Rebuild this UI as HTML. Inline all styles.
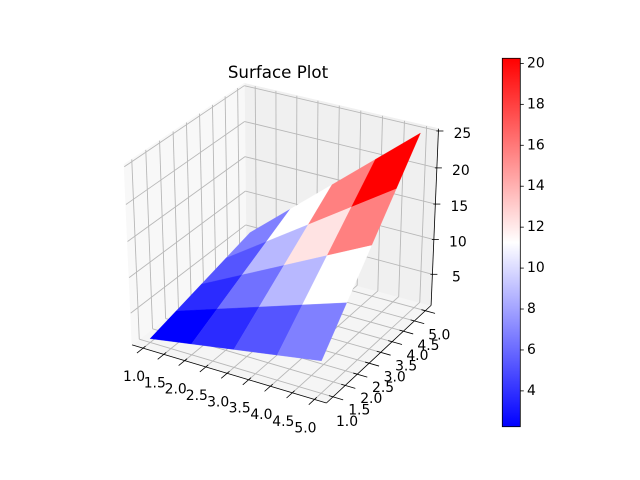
<!DOCTYPE html>
<html><head><meta charset="utf-8"><style>
html,body{margin:0;padding:0;background:#fff;}
svg{display:block;font-family:"DejaVu Sans","Liberation Sans",sans-serif;}
</style></head><body>
<svg id="chart" width="640" height="480" viewBox="0 0 640 480" xmlns="http://www.w3.org/2000/svg">
<defs>
<linearGradient id="bwr" x1="0" y1="1" x2="0" y2="0">
<stop offset="0" stop-color="#0000ff"/><stop offset="0.5" stop-color="#ffffff"/><stop offset="1" stop-color="#ff0000"/>
</linearGradient>
</defs>
<text x="278" y="78" font-size="16.7" text-anchor="middle" fill="#000">Surface Plot</text>
<g id="panes"></g><g id="grid"></g><g id="axes"></g><g id="surface"></g><g id="labels"></g>
<g id="colorbar">
<rect x="502.3" y="58.3" width="18" height="368.4" fill="url(#bwr)" stroke="#000" stroke-width="0.8"/>
</g>
</svg>
<script>
const xs = [1, 2, 3, 4, 5];
const ys = [1, 2, 3, 4, 5];
const zGrid = [
  [1, 2, 3, 4, 5],
  [2, 4, 6, 8, 10],
  [3, 6, 9, 12, 15],
  [4, 8, 12, 16, 20],
  [5, 10, 15, 20, 25]
]; // zGrid[i][j] for x=xs[i], y=ys[j]
const xTicks = [1.0, 1.5, 2.0, 2.5, 3.0, 3.5, 4.0, 4.5, 5.0];
const yTicks = [1.0, 1.5, 2.0, 2.5, 3.0, 3.5, 4.0, 4.5, 5.0];
const zTicks = [5, 10, 15, 20, 25];
const cbTicks = [4, 6, 8, 10, 12, 14, 16, 18, 20];

const XMIN=0.733,XMAX=5.267,YMIN=0.733,YMAX=5.267,ZMIN=0.445,ZMAX=25.3;
const CBMIN=2.25,CBMAX=20.25;
const az=-60*Math.PI/180, el=30*Math.PI/180;
const r=[-Math.sin(az),Math.cos(az),0];
const u=[-Math.sin(el)*Math.cos(az),-Math.sin(el)*Math.sin(az),Math.cos(el)];
const w=[Math.cos(el)*Math.cos(az),Math.cos(el)*Math.sin(az),Math.sin(el)];
function proj(x,y,z){
  const p=[(x-XMIN)/(XMAX-XMIN)-0.5,(y-YMIN)/(YMAX-YMIN)-0.5,(z-ZMIN)/(ZMAX-ZMIN)-0.5];
  const sx=p[0]*r[0]+p[1]*r[1]+p[2]*r[2];
  const sy=p[0]*u[0]+p[1]*u[1]+p[2]*u[2];
  const dd=p[0]*w[0]+p[1]*w[1]+p[2]*w[2];
  const f=10/(10-dd);
  return [283.9+224.3*sx*f,237.8-206*sy*f,dd];
}
const NS='http://www.w3.org/2000/svg';
function mk(tag,attrs,parent){const e=document.createElementNS(NS,tag);for(const k in attrs)e.setAttribute(k,attrs[k]);document.getElementById(parent).appendChild(e);return e;}
function poly(pts){return pts.map(p=>p[0].toFixed(2)+','+p[1].toFixed(2)).join(' ');}
function line(a,b,parent,color,wd){return mk('line',{x1:a[0],y1:a[1],x2:b[0],y2:b[1],stroke:color,'stroke-width':wd},parent);}

let e;
e=mk('polygon',{points:poly([proj(XMIN,YMIN,ZMIN),proj(XMAX,YMIN,ZMIN),proj(XMAX,YMAX,ZMIN),proj(XMIN,YMAX,ZMIN)]),fill:'#f5f5f5',stroke:'#f5f5f5'},'panes');


e=mk('polygon',{points:poly([proj(XMIN,YMAX,ZMIN),proj(XMAX,YMAX,ZMIN),proj(XMAX,YMAX,ZMAX),proj(XMIN,YMAX,ZMAX)]),fill:'#f0f0f0',stroke:'#f0f0f0'},'panes');


e=mk('polygon',{points:poly([proj(XMIN,YMIN,ZMIN),proj(XMIN,YMAX,ZMIN),proj(XMIN,YMAX,ZMAX),proj(XMIN,YMIN,ZMAX)]),fill:'#f8f8f8',stroke:'#f8f8f8'},'panes');



const GC='#b8b8b8', GW=0.9;
xTicks.forEach(x=>{
  e=line(proj(x,YMIN,ZMIN),proj(x,YMAX,ZMIN),'grid',GC,GW);
  
  
  e=line(proj(x,YMAX,ZMIN),proj(x,YMAX,ZMAX),'grid',GC,GW);
  
  
});
yTicks.forEach(y=>{
  e=line(proj(XMIN,y,ZMIN),proj(XMAX,y,ZMIN),'grid',GC,GW);
  
  
  e=line(proj(XMIN,y,ZMIN),proj(XMIN,y,ZMAX),'grid',GC,GW);
  
  
});
zTicks.forEach(z=>{
  e=line(proj(XMIN,YMIN,z),proj(XMIN,YMAX,z),'grid',GC,GW);
  
  
  e=line(proj(XMIN,YMAX,z),proj(XMAX,YMAX,z),'grid',GC,GW);
  
  
});

e=line(proj(XMIN,YMIN,ZMIN),proj(XMAX,YMIN,ZMIN),'axes','#000',0.8);


e=line(proj(XMAX,YMIN,ZMIN),proj(XMAX,YMAX,ZMIN),'axes','#000',0.8);


e=line(proj(XMAX,YMAX,ZMIN),proj(XMAX,YMAX,ZMAX),'axes','#000',0.8);



const DY=YMAX-YMIN, DX=XMAX-XMIN;
function txt(x,y,s,anchor,name){
  const t=mk('text',{x:x,y:y,'font-size':13.9,'text-anchor':anchor,'dominant-baseline':'central',fill:'#000'},'labels');
  t.textContent=s;
  
  
  return t;
}
xTicks.forEach(x=>{
  e=line(proj(x,YMIN+0.02*DY,ZMIN),proj(x,YMIN-0.05*DY,ZMIN),'axes','#000',0.8);
  
  
  const p=proj(x,YMIN,ZMIN);
  txt(p[0]-9,p[1]+29,x.toFixed(1),'middle','x-tick-label');
});
yTicks.forEach(y=>{
  e=line(proj(XMAX-0.02*DX,y,ZMIN),proj(XMAX+0.05*DX,y,ZMIN),'axes','#000',0.8);
  
  
  const p=proj(XMAX,y,ZMIN);
  txt(p[0]+14,p[1]+25,y.toFixed(1),'middle','y-tick-label');
});
zTicks.forEach(z=>{
  const p=proj(XMAX,YMAX,z);
  e=line([p[0]-2,p[1]],[p[0]+5,p[1]],'axes','#000',0.8);
  
  
  txt(p[0]+24,p[1]+3,String(z),'middle','z-tick-label');
});

function bwr(v){
  let t=(v-CBMIN)/(CBMAX-CBMIN);t=Math.max(0,Math.min(1,t));
  let R,G,B;
  if(t<0.5){R=G=2*t;B=1;}else{R=1;G=B=2-2*t;}
  return 'rgb('+Math.round(R*255)+','+Math.round(G*255)+','+Math.round(B*255)+')';
}
const faces=[];
for(let i=0;i<xs.length-1;i++)for(let j=0;j<ys.length-1;j++){
  const c=[[i,j],[i+1,j],[i+1,j+1],[i,j+1]];
  const pts=c.map(([a,b])=>proj(xs[a],ys[b],zGrid[a][b]));
  const avg=c.reduce((s,[a,b])=>s+zGrid[a][b],0)/4;
  const depth=pts.reduce((s,p)=>s+p[2],0)/4;
  faces.push({pts,avg,depth});
}
faces.sort((a,b)=>a.depth-b.depth);
faces.forEach(f=>{
  const col=bwr(f.avg);
  const pg=mk('polygon',{points:poly(f.pts),fill:col,stroke:col,'stroke-width':0.3},'surface');
  
  
});

cbTicks.forEach(v=>{
  const y=426.7-(v-CBMIN)/(CBMAX-CBMIN)*368.4;
  const l=mk('line',{x1:520.3,y1:y,x2:523.8,y2:y,stroke:'#000','stroke-width':0.8},'colorbar');
  
  
  const t=mk('text',{x:527,y:y,'font-size':13.9,'dominant-baseline':'central',fill:'#000'},'colorbar');
  t.textContent=String(v);
  
  
});
</script>
</body></html>
